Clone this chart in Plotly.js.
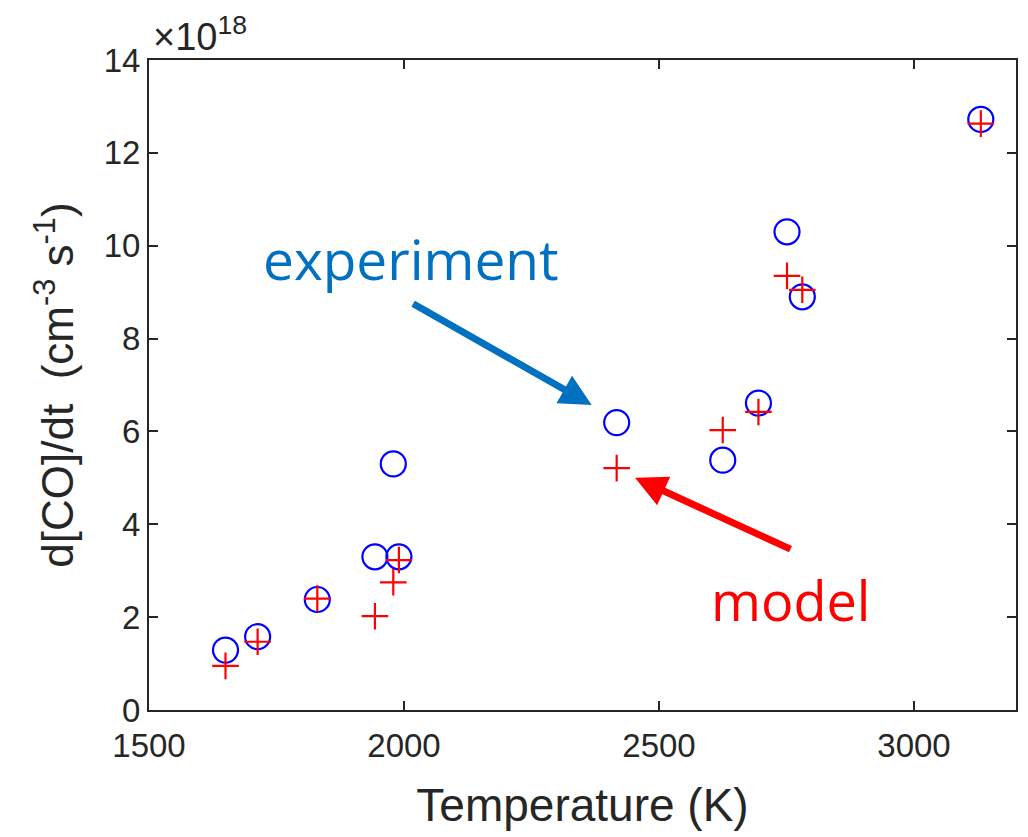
<!DOCTYPE html>
<html>
<head>
<meta charset="utf-8">
<script src="https://cdn.plot.ly/plotly-3.0.1.min.js"></script>
<style>html,body{margin:0;padding:0;background:#fff;}#chart{width:1028px;height:837px;}</style>
</head>
<body>
<div id="chart"></div>
<script>
// Temperature (K)
var temperature = [1650, 1713, 1830, 1943, 1979, 1990, 2417, 2625, 2695, 2751, 2781, 3131];
// d[CO]/dt in units of 1e18 cm^-3 s^-1
var experiment = [1.29, 1.58, 2.38, 3.30, 5.30, 3.30, 6.19, 5.38, 6.61, 10.30, 8.90, 12.72];
var model      = [0.95, 1.47, 2.40, 2.02, 2.75, 3.23, 5.21, 6.03, 6.42, 9.35, 9.05, 12.63];
var xTicks = [1500, 2000, 2500, 3000];
var yTicks = [0, 2, 4, 6, 8, 10, 12, 14];

var axisColor = '#262626';
var font = 'Liberation Sans, Arial, Helvetica, sans-serif';

var traces = [
  {
    x: temperature, y: experiment, type: 'scatter', mode: 'markers', name: 'experiment',
    marker: {symbol: 'circle-open', size: 25, color: '#0000FF', line: {width: 2.2, color: '#0000FF'}},
    showlegend: false, cliponaxis: false
  },
  {
    x: temperature, y: model, type: 'scatter', mode: 'markers', name: 'model',
    marker: {symbol: 'cross-thin-open', size: 19, color: '#FF0000', line: {width: 2.2, color: '#FF0000'}},
    showlegend: false, cliponaxis: false
  }
];

var layout = {
  width: 1028, height: 837,
  margin: {l: 149, r: 12, t: 60, b: 127, pad: 0},
  paper_bgcolor: '#ffffff', plot_bgcolor: '#ffffff',
  font: {family: font, color: axisColor},
  xaxis: {
    range: [1500, 3200], tickvals: xTicks, ticktext: xTicks.map(String),
    ticks: 'inside', ticklen: 9, tickwidth: 2, tickcolor: axisColor,
    showline: true, linecolor: axisColor, linewidth: 2, mirror: 'ticks',
    showgrid: false, zeroline: false, ticklabelstandoff: 5,
    tickfont: {size: 33, color: axisColor, family: font},
    title: {text: 'Temperature (K)', font: {size: 46, color: axisColor, family: font}, standoff: 26}
  },
  yaxis: {
    range: [0, 14], tickvals: yTicks, ticktext: yTicks.map(String),
    ticks: 'inside', ticklen: 9, tickwidth: 2, tickcolor: axisColor,
    showline: true, linecolor: axisColor, linewidth: 2, mirror: 'ticks',
    showgrid: false, zeroline: false,
    tickfont: {size: 33, color: axisColor, family: font},
    title: {text: 'd[CO]/dt  (cm<sup>-3</sup> s<sup>-1</sup>)', font: {size: 44, color: axisColor, family: font}, standoff: 16}
  },
  annotations: [
    {xref: 'paper', yref: 'paper', x: 0.0, y: 1.0, xanchor: 'left', yanchor: 'bottom', yshift: 0, xshift: 2,
     text: '×10<sup>18</sup>', showarrow: false, font: {size: 38, color: axisColor, family: font}},
    {x: 2368, y: 6.57, xref: 'x', yref: 'y', ax: -180, ay: -102, text: '', showarrow: true,
     arrowhead: 2, arrowsize: 0.9, arrowwidth: 7, arrowcolor: '#0070C0'},
    {x: 2453, y: 5.0, xref: 'x', yref: 'y', ax: 157, ay: 72, text: '', showarrow: true,
     arrowhead: 2, arrowsize: 0.9, arrowwidth: 7, arrowcolor: '#FF0000'},
    {xref: 'paper', yref: 'paper', x: (411 - 149) / 867, y: (710 - 258) / 650, xanchor: 'center', yanchor: 'middle',
     text: 'experiment', showarrow: false, font: {size: 55, color: '#0070C0', family: 'Open Sans, Noto Sans, sans-serif'}},
    {xref: 'paper', yref: 'paper', x: (790 - 149) / 867, y: (710 - 600) / 650, xanchor: 'center', yanchor: 'middle',
     text: 'model', showarrow: false, font: {size: 54, color: '#FF0000', family: 'Open Sans, Noto Sans, sans-serif'}}
  ]
};

Plotly.newPlot('chart', traces, layout, {displayModeBar: false, staticPlot: true});
</script>
</body>
</html>
